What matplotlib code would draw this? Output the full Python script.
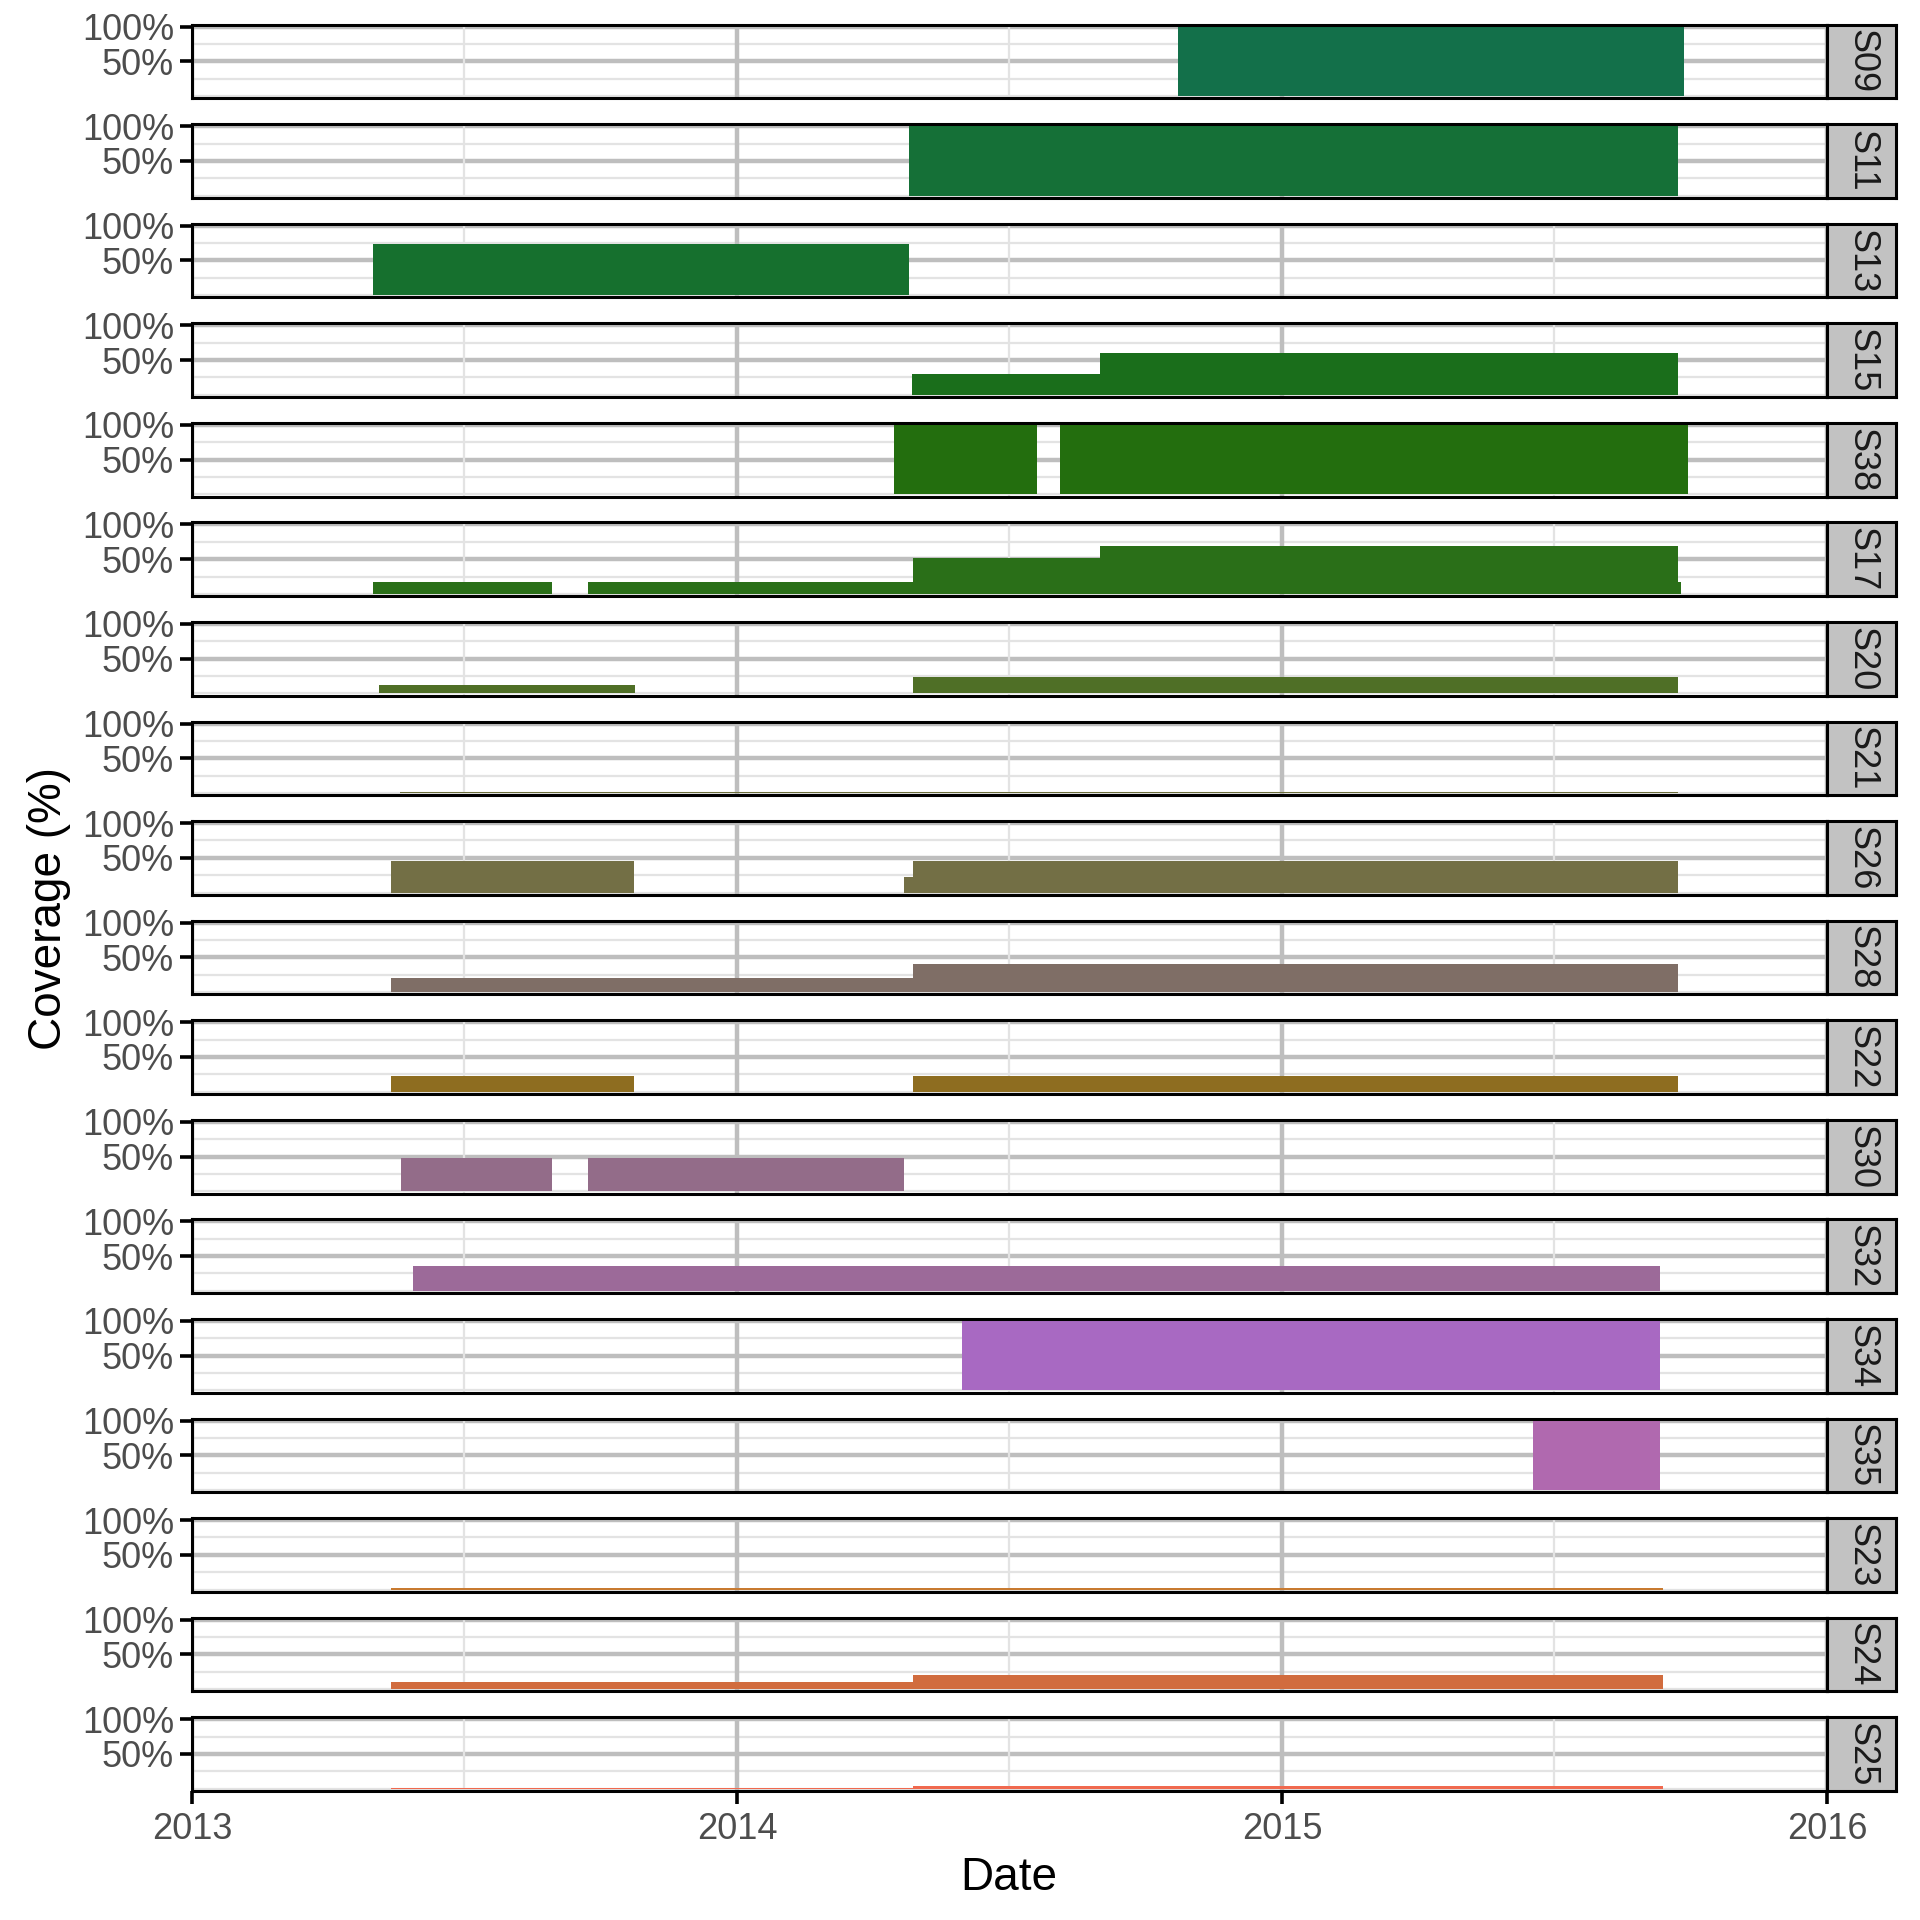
import matplotlib
matplotlib.use("Agg")
import matplotlib.pyplot as plt
import numpy as np
from datetime import datetime

plt.rcParams['font.family'] = ['Liberation Sans', 'DejaVu Sans']

# ---- data: (start date, end date, coverage %) segments per station ----
S09 = [("2014-10-23", "2015-09-27", 100)]
S11 = [("2014-04-26", "2015-09-23", 100)]
S13 = [("2013-05-02", "2014-04-26", 73)]
S15 = [("2014-04-28", "2014-09-01", 30), ("2014-09-01", "2015-09-23", 60)]
S38 = [("2014-04-16", "2014-07-21", 100), ("2014-08-05", "2015-09-30", 100)]
S17 = [("2013-05-02", "2013-08-30", 17), ("2013-09-23", "2014-04-29", 17),
       ("2014-04-29", "2014-09-01", 52), ("2014-09-01", "2015-09-23", 69),
       ("2015-09-23", "2015-09-25", 17)]
S20 = [("2013-05-06", "2013-10-25", 12), ("2014-04-29", "2015-09-23", 24)]
S21 = [("2013-05-20", "2015-09-23", 1)]
S26 = [("2013-05-14", "2013-10-24", 45), ("2014-04-23", "2014-04-29", 22),
       ("2014-04-29", "2015-09-23", 45)]
S28 = [("2013-05-14", "2014-04-29", 20), ("2014-04-29", "2015-09-23", 40)]
S22 = [("2013-05-14", "2013-10-24", 23), ("2014-04-29", "2015-09-23", 23)]
S30 = [("2013-05-21", "2013-08-30", 48), ("2013-09-23", "2014-04-23", 48)]
S32 = [("2013-05-29", "2015-09-11", 36)]
S34 = [("2014-06-01", "2015-09-11", 100)]
S35 = [("2015-06-18", "2015-09-11", 100)]
S23 = [("2013-05-14", "2015-09-13", 2)]
S24 = [("2013-05-14", "2014-04-29", 10), ("2014-04-29", "2015-09-13", 21)]
S25 = [("2013-05-14", "2014-04-29", 1), ("2014-04-29", "2015-09-13", 4)]

stations = ["S09", "S11", "S13", "S15", "S38", "S17", "S20", "S21", "S26",
            "S28", "S22", "S30", "S32", "S34", "S35", "S23", "S24", "S25"]
segments = [S09, S11, S13, S15, S38, S17, S20, S21, S26,
            S28, S22, S30, S32, S34, S35, S23, S24, S25]
colors = ["#13704A", "#157037", "#16702E", "#1A6E1B", "#236E0E", "#2A6F18",
          "#4F6F26", "#6B6E3A", "#736F45", "#7F6E66", "#8E6D20", "#936C89",
          "#9C6A99", "#A869C2", "#B069AF", "#C87A30", "#D16C3E", "#F0694F"]

x_start = datetime(2013, 1, 1)
x_end = datetime(2016, 1, 1)
year_ticks = [datetime(2013, 1, 1), datetime(2014, 1, 1), datetime(2015, 1, 1), datetime(2016, 1, 1)]
year_labels = ["2013", "2014", "2015", "2016"]
half_ticks = [datetime(2013, 7, 2), datetime(2014, 7, 2), datetime(2015, 7, 2)]

fig, axes = plt.subplots(len(stations), 1, figsize=(19.2, 19.2), dpi=100, sharex=True)
fig.subplots_adjust(left=0.1, right=0.9516, top=0.9872, bottom=0.0672, hspace=0.35)

tick_col = "#4D4D4D"
for i, (ax, name, segs, col) in enumerate(zip(axes, stations, segments, colors)):
    ax.set_facecolor("white")
    for y in [0, 25, 75]:
        ax.axhline(y, color="#E3E3E3", lw=1.6, zorder=0)
    for y in [50, 100]:
        ax.axhline(y, color="#BEBEBE", lw=3.2, zorder=0)
    for d in half_ticks:
        ax.axvline(d, color="#E3E3E3", lw=1.6, zorder=0)
    for d in year_ticks:
        ax.axvline(d, color="#BEBEBE", lw=3.2, zorder=0)
    for s, e, v in segs:
        ds = np.array([np.datetime64(s), np.datetime64(e)])
        ax.fill_between(ds, [0, 0], [v, v], color=col, lw=0, zorder=2)
    ax.set_xlim(x_start, x_end)
    ax.set_ylim(-3.3, 102.9)
    ax.set_yticks([50, 100])
    ax.set_yticklabels(["50%", "100%"])
    ax.tick_params(axis="y", length=9, width=2.6, color="black", labelsize=26,
                   labelcolor=tick_col, pad=4)
    ax.set_xticks(year_ticks)
    ax.set_xticklabels(year_labels)
    ax.tick_params(axis="x", length=9, width=2.6, color="black", labelsize=26,
                   labelcolor=tick_col, pad=6)
    if i < len(stations) - 1:
        ax.tick_params(axis="x", length=0, labelbottom=False)
    for sp in ax.spines.values():
        sp.set_color("black")
        sp.set_linewidth(2.2)
        sp.set_zorder(5)
    sax = ax.inset_axes([1.0, 0.0, 0.042, 1.0])
    sax.set_facecolor("#C2C2C2")
    sax.set_xticks([])
    sax.set_yticks([])
    for sp in sax.spines.values():
        sp.set_color("black")
        sp.set_linewidth(2.2)
    sax.text(0.5, 0.5, name, rotation=270, ha="center", va="center",
             fontsize=26, color="#1A1A1A", transform=sax.transAxes)

fig.text(0.5255, 0.022, "Date", ha="center", va="center", fontsize=33, color="black")
fig.text(0.0255, 0.527, "Coverage (%)", ha="center", va="center", rotation=90,
         fontsize=33, color="black")

fig.savefig("out.png", dpi=100, facecolor="white")
